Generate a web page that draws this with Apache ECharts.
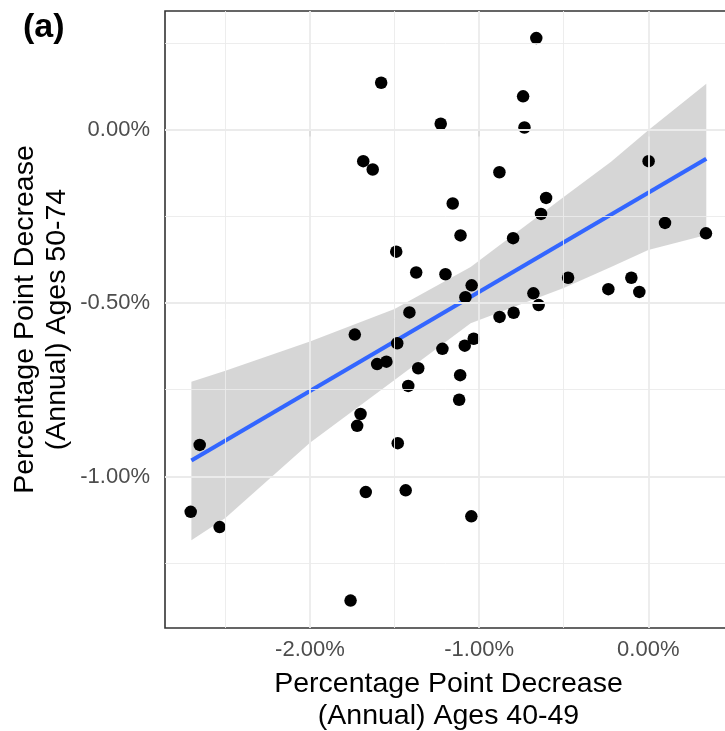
<!DOCTYPE html>
<html>
<head>
<meta charset="utf-8">
<script src="https://cdn.jsdelivr.net/npm/echarts@6/dist/echarts.min.js"></script>
<style>
  html, body { margin: 0; padding: 0; background: #fff; }
  #chart { width: 725px; height: 731px; }
</style>
</head>
<body>
<div id="chart"></div>
<script>
// points (percent)
var stateX = [-0.662, -1.579, -0.740, -1.227, -0.732, -1.685, -1.629, -0.880, 0.002, -0.604,
              -1.156, -0.634, -1.110, 0.099, 0.341, -0.799, -1.490, -1.372, -1.199, -1.044,
              -0.474, -0.100, -0.236, -0.053, -0.679, -0.648, -1.081, -1.412, -0.879, -0.796,
              -1.735, -1.484, -1.217, -1.032, -1.085, -1.603, -1.548, -1.360, -1.112, -1.419,
              -1.118, -1.701, -1.721, -1.481, -2.652, -1.670, -1.434, -2.705, -2.534, -1.046,
              -1.760];
var stateY = [0.264, 0.135, 0.096, 0.017, 0.006, -0.091, -0.115, -0.123, -0.091, -0.197,
              -0.213, -0.243, -0.305, -0.269, -0.299, -0.313, -0.352, -0.412, -0.417, -0.449,
              -0.427, -0.427, -0.460, -0.468, -0.472, -0.506, -0.483, -0.527, -0.540, -0.528,
              -0.591, -0.616, -0.632, -0.603, -0.623, -0.676, -0.669, -0.688, -0.708, -0.739,
              -0.779, -0.820, -0.854, -0.904, -0.909, -1.045, -1.040, -1.102, -1.146, -1.115,
              -1.358];

// fitted line ends
var fitX = [-2.701, 0.343];
var fitY = [-0.954, -0.084];

// confidence band edges
var bandX     = [-2.701, -2.5, -2.0, -1.5, -1.05, -0.5, -0.22, 0.0, 0.343];
var bandUpper = [-0.727, -0.695, -0.611, -0.517, -0.396, -0.194, -0.093, -0.002, 0.132];
var bandLower = [-1.184, -1.120, -0.903, -0.722, -0.558, -0.457, -0.396, -0.347, -0.304];

// axis ticks / grid
var xTicks = [-2, -1, 0];
var yTicks = [0, -0.5, -1];
var xMinor = [-2.5, -1.5, -0.5];
var yMinor = [0.25, -0.25, -0.75, -1.25];

var font = 'Liberation Sans, Arial, Helvetica, sans-serif';

var myChart = echarts.init(document.getElementById('chart'));

function gridLines() {
    var d = [];
    xTicks.forEach(function (v) { d.push({ xAxis: v, lineStyle: { width: 1.8 } }); });
    yTicks.forEach(function (v) { d.push({ yAxis: v, lineStyle: { width: 1.8 } }); });
    xMinor.forEach(function (v) { d.push({ xAxis: v, lineStyle: { width: 0.9 } }); });
    yMinor.forEach(function (v) { d.push({ yAxis: v, lineStyle: { width: 0.9 } }); });
    return d;
}

var option = {
    backgroundColor: '#fff',
    animation: false,
    textStyle: { fontFamily: font },
    title: {
        text: '(a)',
        left: 18,
        top: 6,
        textStyle: { fontSize: 34, fontWeight: 'bold', color: '#000', fontFamily: font }
    },
    grid: {
        left: 165, top: 11, right: -7, bottom: 103,
        outerBoundsMode: 'none',
        containLabel: false,
        show: true,
        borderColor: '#333',
        borderWidth: 1.6,
        backgroundColor: '#fff'
    },
    xAxis: {
        type: 'value',
        min: -2.857, max: 0.495,
        name: 'Percentage Point Decrease\n(Annual) Ages 40-49',
        nameLocation: 'middle',
        nameGap: 40,
        nameMoveOverlap: false,
        nameTextStyle: { fontSize: 28.5, lineHeight: 32, color: '#000', fontFamily: font },
        axisLine: { show: false },
        axisTick: { show: true, length: 7, customValues: xTicks, lineStyle: { color: '#333', width: 1.6 } },
        axisLabel: {
            customValues: xTicks, margin: 11,
            fontSize: 22, color: '#4D4D4D', fontFamily: font,
            formatter: function (v) { return v.toFixed(2) + '%'; }
        },
        splitLine: { show: false }
    },
    yAxis: {
        type: 'value',
        min: -1.437, max: 0.342,
        name: 'Percentage Point Decrease\n(Annual) Ages 50-74',
        nameLocation: 'middle',
        nameGap: 92,
        nameMoveOverlap: false,
        nameTextStyle: { fontSize: 28.5, lineHeight: 32, color: '#000', fontFamily: font },
        axisLine: { show: false },
        axisTick: { show: true, length: 7, customValues: yTicks, lineStyle: { color: '#333', width: 1.6 } },
        axisLabel: {
            customValues: yTicks, margin: 15,
            fontSize: 22, color: '#4D4D4D', fontFamily: font,
            formatter: function (v) { return v.toFixed(2) + '%'; }
        },
        splitLine: { show: false }
    },
    series: [{
        // panel grid
        type: 'line',
        data: [],
        z: 1,
        markLine: {
            silent: true,
            symbol: 'none',
            label: { show: false },
            lineStyle: { color: '#EBEBEB', type: 'solid' },
            data: gridLines()
        }
    }, {
        // confidence band
        type: 'custom',
        z: 2,
        data: bandX.map(function (x, i) { return [x, bandLower[i], bandUpper[i]]; }),
        renderItem: function (params, api) {
            if (params.dataIndex !== 0) return;
            var pts = [];
            for (var i = 0; i < bandX.length; i++) pts.push(api.coord([bandX[i], bandUpper[i]]));
            for (var j = bandX.length - 1; j >= 0; j--) pts.push(api.coord([bandX[j], bandLower[j]]));
            return {
                type: 'polygon',
                shape: { points: pts },
                style: { fill: 'rgba(153,153,153,0.4)', stroke: null }
            };
        },
        silent: true
    }, {
        // fitted line
        type: 'line',
        z: 3,
        data: fitX.map(function (x, i) { return [x, fitY[i]]; }),
        showSymbol: false,
        lineStyle: { color: '#3366FF', width: 4.2 },
        silent: true
    }, {
        type: 'scatter',
        z: 4,
        data: stateX.map(function (x, i) { return [x, stateY[i]]; }),
        symbolSize: 12.5,
        itemStyle: { color: '#000', opacity: 1 }
    }]
};

myChart.setOption(option);
</script>
</body>
</html>
